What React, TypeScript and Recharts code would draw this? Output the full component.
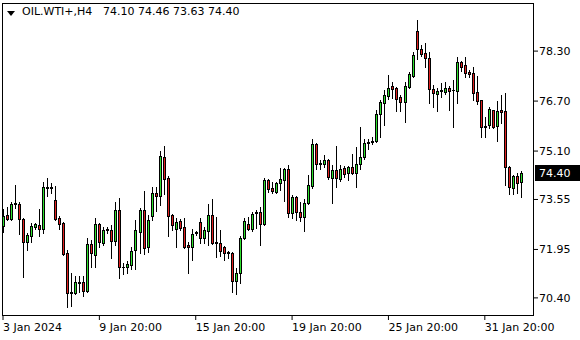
import React from 'react';
import { ComposedChart, Bar, XAxis, YAxis, ReferenceArea, ReferenceLine } from 'recharts';

// H4 candles (oldest first)
const opens = [
  72.71, 73.06, 72.93, 73.41, 73.41, 72.93, 72.19, 72.38, 72.68, 72.74,
  72.61, 73.95, 73.93, 73.53, 72.96, 72.80, 71.84, 70.56, 70.56, 70.88,
  70.91, 70.62, 72.13, 71.78, 72.77, 72.16, 72.58, 72.58, 72.22, 73.22,
  71.39, 71.39, 71.46, 71.94, 72.51, 73.22, 72.03, 73.03, 73.76, 73.66,
  74.91, 74.24, 73.06, 72.61, 72.86, 72.67, 72.10, 72.03, 72.48, 72.83,
  72.32, 72.55, 73.06, 72.19, 72.16, 72.03, 71.87, 71.84, 70.94, 71.20,
  72.32, 72.77, 72.61, 73.15, 73.15, 72.77, 74.17, 73.92, 73.79, 74.08,
  74.17, 74.53, 73.12, 73.63, 73.15, 72.99, 73.44, 73.98, 75.33, 74.69,
  74.69, 74.81, 74.24, 74.49, 74.21, 74.56, 74.40, 74.59, 74.40, 74.69,
  74.91, 75.36, 75.39, 75.42, 76.29, 76.64, 76.86, 77.18, 77.12, 76.83,
  76.67, 77.15, 77.50, 78.94, 78.36, 78.24, 78.08, 77.09, 76.93, 77.02,
  76.99, 77.12, 77.05, 77.02, 77.95, 77.85, 77.63, 77.60, 76.99, 76.73,
  75.90, 75.93, 76.41, 75.90, 76.41, 76.38, 74.59, 73.92, 74.30, 74.10,
];
const highs = [
  73.25, 73.31, 73.47, 74.01, 73.47, 72.95, 72.48, 72.80, 72.80, 73.25,
  74.11, 74.24, 74.08, 73.98, 73.03, 72.83, 71.94, 71.20, 71.10, 71.10,
  71.10, 72.32, 72.26, 72.96, 72.80, 72.67, 72.67, 72.74, 73.47, 73.60,
  71.52, 71.58, 72.03, 72.90, 73.28, 73.82, 73.06, 73.95, 73.95, 75.10,
  75.26, 74.30, 73.09, 72.96, 72.93, 72.96, 72.19, 72.61, 72.54, 72.96,
  72.67, 73.41, 73.57, 72.99, 72.58, 72.06, 71.90, 71.87, 71.36, 72.38,
  72.96, 72.99, 73.15, 73.22, 73.31, 74.24, 74.21, 74.11, 74.11, 74.56,
  74.56, 74.65, 73.69, 73.66, 73.47, 73.57, 74.33, 75.49, 75.35, 74.81,
  74.97, 74.85, 74.65, 75.26, 74.65, 74.62, 74.61, 75.01, 75.23, 75.87,
  75.49, 75.49, 75.55, 76.41, 76.73, 77.05, 77.53, 77.31, 77.15, 76.89,
  77.31, 77.63, 78.27, 79.29, 78.49, 78.56, 78.27, 77.21, 77.12, 77.28,
  77.31, 77.18, 77.37, 78.11, 77.98, 78.11, 77.69, 77.79, 77.50, 76.75,
  76.19, 76.51, 76.43, 76.70, 76.89, 76.96, 74.61, 74.33, 74.40, 74.46,
];
const lows = [
  72.52, 72.90, 72.90, 73.28, 72.45, 71.07, 71.94, 72.19, 72.61, 72.38,
  72.48, 73.66, 73.76, 72.90, 72.61, 71.78, 70.11, 70.14, 70.53, 70.59,
  70.46, 70.59, 71.39, 71.39, 72.03, 72.10, 72.48, 71.68, 72.10, 71.04,
  71.17, 71.20, 71.33, 71.33, 71.84, 71.81, 71.87, 72.90, 73.19, 73.38,
  73.73, 72.38, 72.58, 72.03, 72.58, 72.00, 71.20, 71.62, 72.42, 72.16,
  72.16, 72.10, 72.13, 71.71, 71.74, 71.62, 71.68, 70.59, 70.53, 70.88,
  72.29, 72.58, 72.54, 72.64, 72.10, 72.74, 73.79, 73.76, 73.76, 73.85,
  73.50, 72.99, 72.96, 72.90, 72.86, 72.54, 73.41, 73.92, 74.53, 74.53,
  74.59, 74.21, 73.44, 73.95, 74.14, 74.27, 74.17, 74.37, 73.95, 74.53,
  74.85, 75.17, 75.33, 75.39, 75.55, 75.93, 76.77, 76.80, 76.38, 76.38,
  76.03, 77.12, 77.47, 78.04, 78.14, 77.79, 76.64, 76.51, 76.38, 76.83,
  76.93, 76.41, 75.87, 76.64, 77.66, 77.47, 77.47, 76.73, 76.61, 75.55,
  75.55, 75.84, 75.84, 75.42, 76.00, 74.01, 73.73, 73.73, 73.76, 73.63,
];
const closes = [
  73.03, 72.93, 73.41, 73.44, 72.93, 72.19, 72.42, 72.71, 72.77, 72.61,
  73.95, 73.93, 73.95, 72.93, 72.77, 71.81, 70.56, 70.58, 70.91, 70.91,
  70.62, 72.13, 71.84, 72.77, 72.19, 72.58, 72.60, 72.22, 73.22, 71.39,
  71.40, 71.49, 71.90, 72.58, 73.22, 72.00, 72.90, 73.76, 73.66, 74.94,
  74.21, 73.03, 72.74, 72.83, 72.64, 72.03, 72.03, 72.45, 72.50, 72.32,
  72.58, 73.06, 72.16, 72.16, 71.90, 71.84, 71.84, 70.94, 71.20, 72.32,
  72.86, 72.61, 73.09, 73.12, 72.77, 74.17, 73.89, 73.82, 74.08, 74.21,
  74.53, 73.12, 73.63, 73.15, 72.99, 73.44, 74.01, 75.33, 74.69, 74.71,
  74.81, 74.27, 74.49, 74.24, 74.53, 74.37, 74.59, 74.40, 74.69, 74.91,
  75.36, 75.39, 75.42, 76.29, 76.67, 76.89, 77.12, 77.09, 76.77, 76.67,
  77.18, 77.56, 78.17, 78.36, 78.20, 78.08, 77.09, 76.96, 77.02, 77.05,
  77.12, 77.02, 77.04, 77.95, 77.79, 77.60, 77.56, 76.96, 76.70, 75.87,
  75.86, 76.45, 75.87, 76.38, 76.35, 74.59, 73.95, 74.30, 74.08, 74.40,
];

const xTickIdx = [0, 24, 48, 72, 96, 120];
const xTickLabels = ['3 Jan 2024', '9 Jan 20:00', '15 Jan 20:00', '19 Jan 20:00', '25 Jan 20:00', '31 Jan 20:00'];
const yTicks = [70.4, 71.95, 73.55, 75.1, 76.7, 78.3];
const symbol = 'OIL.WTI+,H4';

const UP = '#2ee02e';
const DOWN = '#e02020';
const FONT = 'DejaVu Sans';

const data = opens.map((o, i) => ({
  i,
  o,
  h: highs[i],
  l: lows[i],
  c: closes[i],
  range: [lows[i], highs[i]],
}));

const last = data[data.length - 1];

const Candle = (props: any) => {
  const { x, y, width, height, payload } = props;
  if (!payload) return null;
  const top = Math.min(y, y + height);
  const bot = Math.max(y, y + height);
  const { o, h, l, c } = payload;
  // map a price inside [l, h] onto the bar's pixel span
  const py = (v: number) => (h === l ? top : top + ((h - v) / (h - l)) * (bot - top));
  const cx = Math.round(x + width / 2);
  const yH = Math.round(py(h));
  const yL = Math.round(py(l));
  const bTop = Math.round(py(Math.max(o, c)));
  const bBot = Math.round(py(Math.min(o, c)));
  return (
    <g>
      <rect x={cx} y={yH} width={1} height={yL - yH + 1} fill="#000" />
      <rect x={cx - 1} y={bTop} width={3} height={bBot - bTop + 1} fill="#000" />
      {bBot - bTop > 1 && (
        <rect x={cx} y={bTop + 1} width={1} height={bBot - bTop - 1} fill={c >= o ? UP : DOWN} />
      )}
    </g>
  );
};

const Frame = (props: any) => {
  const { x, y, width, height } = props;
  return (
    <rect
      x={Math.round(x) + 0.5}
      y={Math.round(y) + 0.5}
      width={Math.round(width) - 1}
      height={Math.round(height) - 1}
      fill="none"
      stroke="#000"
      strokeWidth={1}
    />
  );
};

const XTick = (props: any) => {
  const { x, y, payload } = props;
  const idx = xTickIdx.indexOf(payload.value);
  return (
    <text x={x} y={y + 9} textAnchor="start" fontSize={11} fontFamily={FONT} fill="#000">
      {idx >= 0 ? xTickLabels[idx] : ''}
    </text>
  );
};

const PriceTag = (props: any) => {
  const { viewBox } = props;
  if (!viewBox) return null;
  const left = Math.round(viewBox.x + viewBox.width) + 1;
  const cy = Math.round(viewBox.y);
  return (
    <g>
      <rect x={left} y={cy - 8} width={46} height={16} fill="#000" />
      <text x={left + 4} y={cy + 4} fontSize={11} fontFamily={FONT} fill="#fff">
        {last.c.toFixed(2)}
      </text>
    </g>
  );
};

export default function App() {
  return (
    <div style={{ position: 'absolute', left: 0, top: 0, width: 580, height: 340, background: '#fff', fontFamily: FONT }}>
      <ComposedChart width={580} height={340} data={data} margin={{ top: 3, right: 0, bottom: 0, left: 2 }}>
        <XAxis
          dataKey="i"
          type="number"
          domain={[-0.25, 132.25]}
          allowDataOverflow
          ticks={xTickIdx}
          interval={0}
          tick={<XTick />}
          tickSize={4}
          tickMargin={2}
          tickLine={{ stroke: '#000' }}
          axisLine={false}
          height={24}
        />
        <YAxis
          orientation="right"
          type="number"
          domain={[69.82, 79.84]}
          allowDataOverflow
          ticks={yTicks}
          interval={0}
          tickFormatter={(v: number) => v.toFixed(2)}
          tick={{ fill: '#000', fontSize: 11, fontFamily: FONT }}
          tickSize={4}
          tickMargin={1}
          tickLine={{ stroke: '#000' }}
          axisLine={false}
          width={46}
        />
        <Bar dataKey="range" barSize={4} shape={<Candle />} isAnimationActive={false} />
        <ReferenceArea
          x1={-0.25}
          x2={132.25}
          y1={69.82}
          y2={79.84}
          ifOverflow="visible"
          shape={<Frame />}
        />
        <ReferenceLine y={last.c} stroke="none" ifOverflow="visible" label={<PriceTag />} />
      </ComposedChart>
      <div style={{ position: 'absolute', left: 7, top: 11, width: 0, height: 0, borderLeft: '4px solid transparent', borderRight: '4px solid transparent', borderTop: '5px solid #000' }} />
      <div style={{ position: 'absolute', left: 22, top: 5, fontSize: 11, lineHeight: '13px', color: '#000', whiteSpace: 'pre' }}>
        {symbol}
      </div>
      <div style={{ position: 'absolute', left: 103, top: 5, fontSize: 11, lineHeight: '13px', color: '#000', whiteSpace: 'pre' }}>
        {[last.o, last.h, last.l, last.c].map((v) => v.toFixed(2)).join(' ')}
      </div>
    </div>
  );
}
